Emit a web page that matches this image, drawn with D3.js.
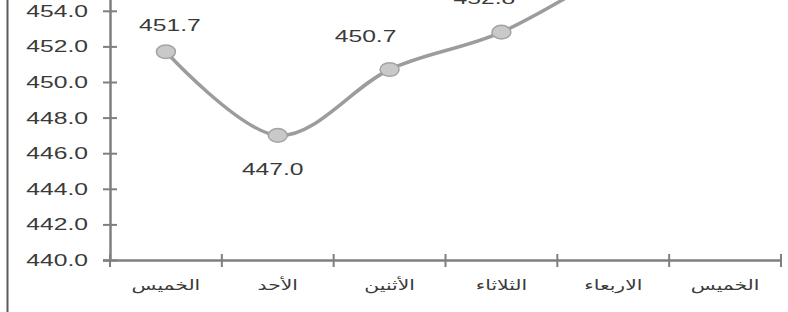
<!DOCTYPE html>
<html>
<head>
<meta charset="utf-8">
<script src="https://cdn.jsdelivr.net/npm/d3@7"></script>
<style>
  html, body { margin: 0; padding: 0; background: #fff; }
  svg { display: block; font-family: Arial, "Liberation Sans", "DejaVu Sans", sans-serif; }
</style>
</head>
<body>
<svg id="chart" width="788" height="312"></svg>
<script>
// categories on the x axis (Thursday .. Thursday)
const DAYS = ["الخميس", "الأحد", "الأثنين", "الثلاثاء", "الاربعاء", "الخميس"];
// values per day (the last point runs off the top of the picture)
const VALUES = [451.7, 447.0, 450.7, 452.8, 456.3];
const Y_TICKS = [440, 442, 444, 446, 448, 450, 452, 454, 456, 458];

const STRETCH = 1.45; // source picture is stretched horizontally
const TEXT = "#3a3a3a";
const AXIS = "#7f7f7f";

const svg = d3.select("#chart");

const X_SCALE = d3.scaleBand()
  .domain(d3.range(DAYS.length))
  .range([110, 781]);

const Y_SCALE = d3.scaleLinear()
  .domain([440, 458])
  .range([260, 260 - 18 * 17.8]);

// left frame line
svg.append("line")
  .attr("x1", 7.5).attr("x2", 7.5)
  .attr("y1", 0).attr("y2", 312)
  .attr("stroke", "#5a5a5a")
  .attr("stroke-width", 2);

// y axis
const yAxis = svg.append("g")
  .attr("transform", "translate(110,0)")
  .call(d3.axisLeft(Y_SCALE).tickValues(Y_TICKS).tickFormat(d3.format(".1f")).tickSize(7).tickPadding(15));
yAxis.select(".domain").attr("stroke", AXIS).attr("stroke-width", 2.5);
yAxis.selectAll(".tick line").attr("x1", 7).attr("stroke", AXIS).attr("stroke-width", 2);
yAxis.selectAll(".tick text")
  .attr("fill", TEXT)
  .attr("font-size", 17)
  .attr("x", -22);

// x axis
const xAxis = svg.append("g")
  .attr("transform", `translate(0,${Y_SCALE(440)})`)
  .call(d3.axisBottom(X_SCALE).tickSize(0).tickPadding(20).tickFormat(i => DAYS[i]));
xAxis.select(".domain").attr("stroke", AXIS).attr("stroke-width", 2.5);
xAxis.selectAll(".tick text")
  .attr("fill", TEXT)
  .attr("font-size", 14)
  .attr("font-family", "'DejaVu Sans', sans-serif");

const bounds = d3.range(DAYS.length).map(i => X_SCALE(i)).concat([X_SCALE.range()[1]]);
xAxis.selectAll(".bound")
  .data(bounds)
  .enter()
  .append("line")
  .classed("bound", true)
  .attr("x1", d => d).attr("x2", d => d)
  .attr("y1", -6).attr("y2", 7)
  .attr("stroke", AXIS)
  .attr("stroke-width", 2);

// line
const cx = (d, i) => X_SCALE(i) + X_SCALE.bandwidth() / 2;
const line = d3.line()
  .x(cx)
  .y(d => Y_SCALE(d))
  .curve(d3.curveCardinal.tension(0));

svg.append("path")
  .datum(VALUES)
  .attr("d", line)
  .attr("fill", "none")
  .attr("stroke", "#9c9c9c")
  .attr("stroke-width", 3.5);

svg.selectAll(".dot")
  .data(VALUES)
  .enter()
  .append("ellipse")
  .classed("dot", true)
  .attr("cx", cx)
  .attr("cy", d => Y_SCALE(d))
  .attr("rx", 9.5)
  .attr("ry", 6.8)
  .attr("fill", "#c9c9c9")
  .attr("stroke", "#a3a3a3")
  .attr("stroke-width", 1.5);

// value labels, placed like the original (below for the low point)
const LABEL_SHIFT = [[4, -21], [-5, 40], [-24, -28], [-17, -28], [0, -24]];
svg.selectAll(".label")
  .data(VALUES)
  .enter()
  .append("text")
  .classed("label", true)
  .text(d => d.toFixed(1))
  .attr("x", (d, i) => cx(d, i) + LABEL_SHIFT[i][0])
  .attr("y", (d, i) => Y_SCALE(d) + LABEL_SHIFT[i][1])
  .attr("text-anchor", "middle")
  .attr("font-size", 17)
  .attr("fill", TEXT);

// widen every text to the picture's proportions
svg.selectAll("text").each(function () {
  const len = this.getComputedTextLength();
  d3.select(this)
    .attr("textLength", len * STRETCH)
    .attr("lengthAdjust", "spacingAndGlyphs");
});
</script>
</body>
</html>
